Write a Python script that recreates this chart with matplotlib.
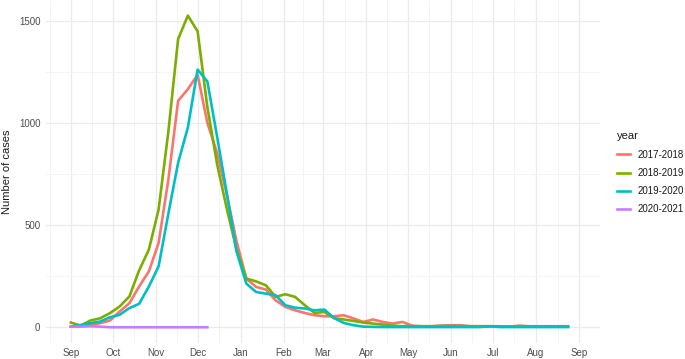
import numpy as np
import pandas as pd
import matplotlib
matplotlib.use("Agg")
from matplotlib import pyplot as plt

plt.rcParams["font.family"] = ["Liberation Sans", "DejaVu Sans"]

# weekly case counts, weeks starting at the beginning of September
cases_2017_2018 = [3, 7, 11, 20, 33, 77, 118, 200, 274, 414, 725, 1111, 1168, 1239,
                   1003, 855, 650, 420, 238, 198, 185, 132, 100, 83, 70, 59,
                   54, 54, 59, 43, 26, 38, 26, 18, 26, 8, 5, 5, 8, 10,
                   10, 5, 5, 5, 5, 3, 8, 5, 5, 5, 5, 5]
cases_2018_2019 = [23, 8, 33, 44, 69, 102, 151, 279, 381, 578, 960, 1414, 1529, 1452,
                   1080, 800, 580, 380, 239, 225, 206, 149, 162, 149, 108, 70,
                   75, 45, 38, 31, 23, 18, 13, 8, 5, 5, 5, 5, 6, 6,
                   5, 5, 5, 5, 4, 4, 4, 4, 4, 4, 4, 4]
cases_2019_2020 = [3, 11, 20, 28, 49, 61, 94, 115, 200, 299, 558, 807, 980, 1264,
                   1206, 935, 655, 370, 214, 173, 165, 157, 108, 96, 92, 83,
                   87, 45, 21, 10, 3, 2, 1, 1, 1, 1, 1, 1, 1, 1,
                   1, 1, 1, 5, 1, 1, 1, 1, 1, 1, 1, 1]
cases_2020_2021 = [3, 3, 5, 3, 0, 0, 0, 0, 0, 0, 0, 0, 0, 0, 0]

seasons = ["2017-2018", "2018-2019", "2019-2020", "2020-2021"]
colors = ["#F8766D", "#7CAE00", "#00BFC4", "#C77CFF"]
series = [cases_2017_2018, cases_2018_2019, cases_2019_2020, cases_2020_2021]

weeks = pd.date_range("2017-09-01", periods=52, freq="7D")

fig = plt.figure(figsize=(6.85, 3.59), dpi=100)
ax = fig.add_axes([0.0672, 0.045, 0.8088, 0.955])

for name, col, vals in zip(seasons, colors, series):
    ax.plot(weeks[:len(vals)], vals, color=col, lw=1.9, label=name,
            solid_joinstyle="round")

start, end = weeks[0], weeks[-1]
span = end - start
ax.set_xlim(start - span * 0.05, end + span * 0.05)
ax.set_ylim(-1529 * 0.05, 1529 * 1.05)

months = pd.date_range("2017-09-01", "2018-09-01", freq="MS")
ax.set_xticks(months)
ax.set_xticklabels([m.strftime("%b") for m in months])
mids = [months[0] - (months[1] - months[0]) / 2]
mids += [months[i] + (months[i + 1] - months[i]) / 2 for i in range(len(months) - 1)]
mids += [months[-1] + pd.Timedelta(days=15)]
ax.set_xticks(mids, minor=True)
ax.set_yticks([0, 500, 1000, 1500])
ax.set_yticks([250, 750, 1250], minor=True)

ax.grid(True, which="major", color="#EBEBEB", lw=0.9)
ax.grid(True, which="minor", color="#F3F3F3", lw=0.6)
ax.set_axisbelow(True)
for s in ax.spines.values():
    s.set_visible(False)
ax.tick_params(which="both", length=0, labelsize=7, colors="#4D4D4D", pad=4)
ax.set_ylabel("Number of cases", fontsize=8, color="#1A1A1A", labelpad=5)

leg = ax.legend(title="year", loc="upper left", bbox_to_anchor=(0.9, 0.634),
                bbox_transform=fig.transFigure, frameon=False, fontsize=7,
                title_fontsize=8, handlelength=1.4, labelspacing=0.85,
                handletextpad=0.75, borderpad=0, borderaxespad=0)
leg._legend_box.align = "left"
for t in leg.get_texts():
    t.set_color("#1A1A1A")
leg.get_title().set_color("#1A1A1A")

fig.savefig("out.png", dpi=100)
